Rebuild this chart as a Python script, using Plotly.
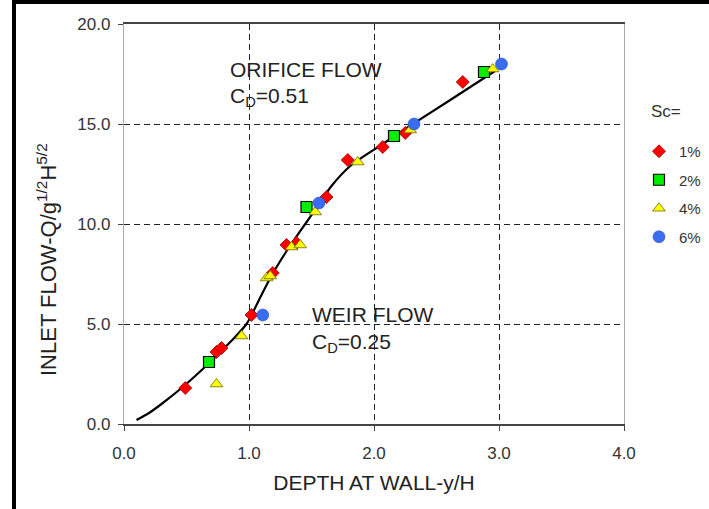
import plotly.graph_objects as go

# Fitted inlet rating curve (depth at wall vs. dimensionless inlet flow)
curve_x = [0.10, 0.20, 0.30, 0.47, 0.69, 0.85, 0.98, 1.08, 1.17, 1.26, 1.35,
           1.45, 1.54, 1.66, 1.81, 2.07, 2.31, 2.61, 2.98]
curve_y = [0.20, 0.55, 1.00, 1.85, 3.10, 4.10, 5.00, 6.20, 7.30, 8.25, 9.10,
           10.00, 10.80, 11.90, 12.90, 14.00, 15.00, 16.20, 17.70]

# Measured points by cross slope Sc
s1_x = [0.49, 0.74, 0.78, 1.02, 1.19, 1.30, 1.38, 1.62, 1.79, 2.07, 2.25, 2.71]
s1_y = [1.80, 3.60, 3.80, 5.45, 7.55, 8.95, 9.05, 11.35, 13.20, 13.85, 14.55, 17.10]

s2_x = [0.68, 1.46, 2.16, 2.88]
s2_y = [3.10, 10.85, 14.40, 17.60]

s4_x = [0.74, 0.94, 1.14, 1.17, 1.34, 1.41, 1.53, 1.87, 2.29, 2.95]
s4_y = [2.00, 4.40, 7.30, 7.40, 8.85, 8.95, 10.60, 13.10, 14.70, 17.75]

s6_x = [1.11, 1.56, 2.32, 3.02]
s6_y = [5.45, 11.05, 15.00, 18.00]

series_names = ["1%", "2%", "4%", "6%"]

x_ticks = [0, 1, 2, 3, 4]
y_ticks = [0, 5, 10, 15, 20]

FONT = "Liberation Sans, Arial, sans-serif"
W, H = 709, 509
L, R, T, B = 124, 85, 24, 85


def px_to_paper_x(px):
    return (px - L) / (W - L - R)


def px_to_paper_y(py):
    return (H - B - py) / (H - T - B)


fig = go.Figure()

fig.add_trace(go.Scatter(
    x=curve_x, y=curve_y, mode="lines",
    line=dict(color="black", width=2.2, shape="spline", smoothing=0.8),
    showlegend=False, hoverinfo="skip",
))

styles = [
    (s1_x, s1_y, dict(symbol="diamond", size=10, color="#ff0000",
                      line=dict(color="#a00000", width=0.8))),
    (s2_x, s2_y, dict(symbol="square", size=11, color="#00ee00",
                      line=dict(color="black", width=1.2))),
    (s4_x, s4_y, dict(symbol="triangle-up", size=11, color="#ffff00",
                      line=dict(color="#6b6b00", width=0.8))),
    (s6_x, s6_y, dict(symbol="circle", size=12, color="#3a6cf0",
                      line=dict(color="#2a50c0", width=0.6))),
]
for name, (xs, ys, mk) in zip(series_names, styles):
    fig.add_trace(go.Scatter(
        x=xs, y=ys, mode="markers", name=name, marker=mk,
        legendgroup=name,
    ))

text_color = "#222222"
annotations = [
    dict(x=0.83, y=17.75, text="ORIFICE FLOW"),
    dict(x=0.83, y=16.35, text="C<sub>D</sub>=0.51"),
    dict(x=1.49, y=5.50, text="WEIR FLOW"),
    dict(x=1.49, y=4.05, text="C<sub>D</sub>=0.25"),
]
for a in annotations:
    fig.add_annotation(
        x=a["x"], y=a["y"], xref="x", yref="y", text=a["text"],
        showarrow=False, xanchor="left", yanchor="middle",
        font=dict(family=FONT, size=21, color=text_color),
    )

# Legend heading
fig.add_annotation(
    x=px_to_paper_x(649), y=px_to_paper_y(111), xref="paper", yref="paper",
    text="Sc=", showarrow=False, xanchor="left", yanchor="middle",
    font=dict(family=FONT, size=17, color="#333333"),
)

# Vertical axis title
fig.add_annotation(
    x=px_to_paper_x(47), y=px_to_paper_y(260), xref="paper", yref="paper",
    text="INLET FLOW-Q/g<sup>1/2</sup>H<sup>5/2</sup>", textangle=-90,
    showarrow=False, xanchor="center", yanchor="middle",
    font=dict(family=FONT, size=22, color=text_color),
)

# Frame lines on the left and top edges of the page
fig.add_shape(type="line", xref="paper", yref="paper",
              x0=px_to_paper_x(14), x1=px_to_paper_x(14),
              y0=px_to_paper_y(H + 2), y1=px_to_paper_y(0),
              line=dict(color="black", width=4))
fig.add_shape(type="line", xref="paper", yref="paper",
              x0=px_to_paper_x(12), x1=px_to_paper_x(W + 2),
              y0=px_to_paper_y(2), y1=px_to_paper_y(2),
              line=dict(color="black", width=4))

grid = dict(showgrid=True, gridcolor="#222222", gridwidth=1.1, griddash="6px,4px")

fig.update_xaxes(
    range=[0, 4], tickvals=x_ticks, tickformat=".1f",
    ticks="outside", ticklen=5, tickcolor="#444444",
    showline=True, linecolor="#444444", linewidth=1.6, mirror=True,
    zeroline=False, ticklabelstandoff=8,
    tickfont=dict(family=FONT, size=17, color="#333333"),
    title=dict(text="DEPTH AT WALL-y/H", standoff=13,
               font=dict(family=FONT, size=21, color=text_color)),
    **grid,
)
fig.update_yaxes(
    range=[0, 20], tickvals=y_ticks, tickformat=".1f",
    ticks="outside", ticklen=5, tickcolor="#444444",
    showline=True, linecolor="#aaaaaa", linewidth=1.4, mirror=True,
    zeroline=False, ticklabelstandoff=4,
    tickfont=dict(family=FONT, size=17, color="#333333"),
    **grid,
)

fig.update_layout(
    width=W, height=H,
    margin=dict(l=L, r=R, t=T, b=B, autoexpand=False),
    paper_bgcolor="white", plot_bgcolor="white",
    showlegend=True,
    legend=dict(
        x=px_to_paper_x(639), y=px_to_paper_y(135), xanchor="left", yanchor="top",
        font=dict(family=FONT, size=15, color="#333333"),
        tracegroupgap=6, bgcolor="rgba(0,0,0,0)",
    ),
)

fig.write_html("out.html")
